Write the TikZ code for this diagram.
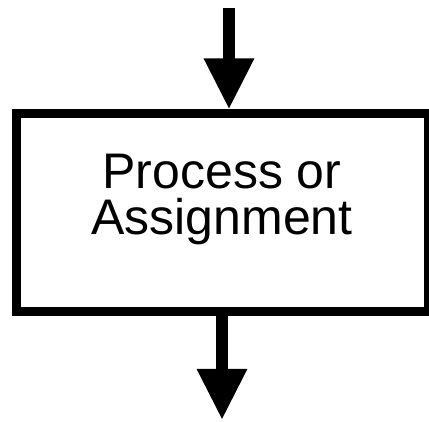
\documentclass[tikz,border=0pt]{standalone}
\usepackage{fontspec}
\setmainfont{Liberation Sans}
\usepackage{tikz}
\usetikzlibrary{arrows.meta,positioning,calc}

\begin{document}
\begin{tikzpicture}[
    x=1pt, y=1pt,
    procbox/.style={draw=black, line width=9pt, fill=white, inner sep=0pt,
      minimum width=412pt, minimum height=198pt},
    boxtext/.style={font=\fontsize{50}{46}\selectfont, align=center},
    arrow/.style={-{Triangle[length=51pt, width=47pt]}, line width=12pt}
  ]
    \useasboundingbox (0,0) rectangle (429,421);
    \node[procbox] (proc) at (222,208) {};
    \node[boxtext] (label) at ($(proc.center)+(0,14)$) {Process or\\Assignment};
    \coordinate (in) at (229,413);
    \coordinate (out) at (222,1);
    \draw[arrow] (in) -- (in |- proc.north);
    \draw[arrow] (proc.south) -- (out);
  \end{tikzpicture}
\end{document}
